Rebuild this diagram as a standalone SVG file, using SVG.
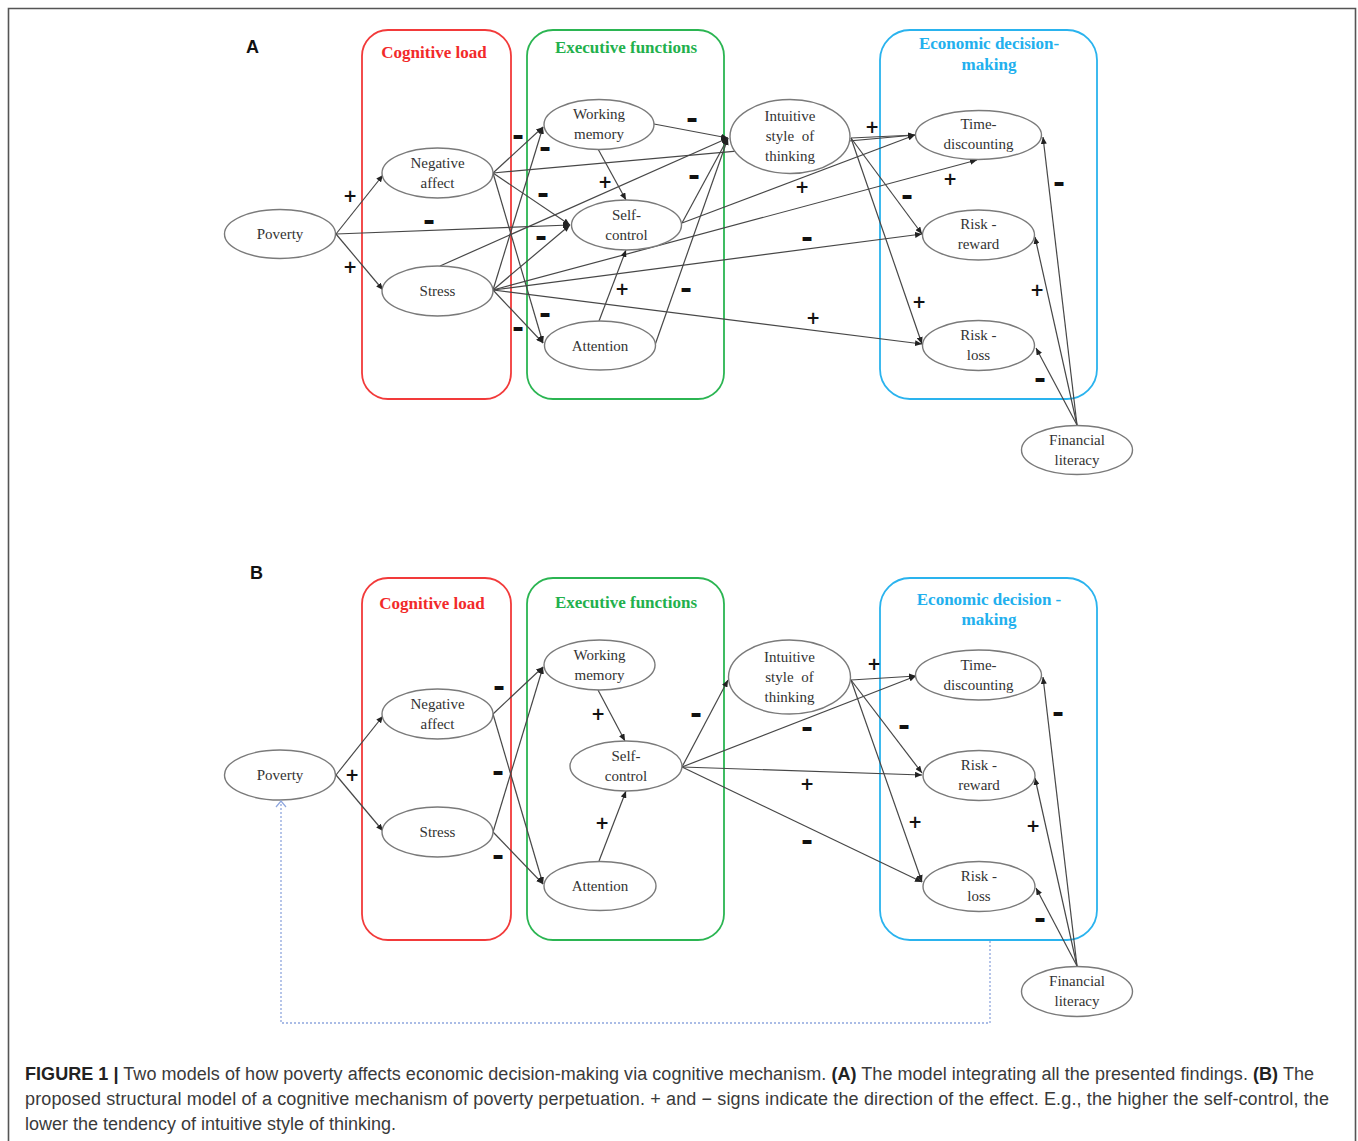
<svg xmlns="http://www.w3.org/2000/svg" width="1358" height="1141" viewBox="0 0 1358 1141">
<style>
.bg{fill:#fff}
.frame{fill:none;stroke:#555;stroke-width:1.6}
.node ellipse{fill:#fff;stroke:#7a7a7a;stroke-width:1.4}
.node text{font-family:"Liberation Serif","Times New Roman",serif;font-size:15px;fill:#333;text-anchor:middle}
.box{fill:none;stroke-width:1.8}
.red{stroke:#f23a3a}.grn{stroke:#2bb552}.blu{stroke:#2ab3ee}
.ttl{font-family:"Liberation Serif","Times New Roman",serif;font-size:17px;font-weight:bold;text-anchor:middle}
.tr{fill:#f22a2a}.tg{fill:#22b04c}.tb{fill:#22b0ee}
.edges line,.edges path{stroke:#474747;stroke-width:1.2;fill:none}
.edges line{marker-end:url(#ah)}
.dot{stroke:#8ea6de !important;stroke-dasharray:2 2;stroke-width:1.3 !important;marker-end:url(#oa)}
.sg{font-family:"DejaVu Sans",sans-serif;font-weight:bold;font-size:17px;fill:#111;text-anchor:middle;dominant-baseline:central}
.mn{font-size:29px}
.pl{font-family:"Liberation Sans",Arial,sans-serif;font-weight:bold;font-size:18px;fill:#111}
.cap{font-family:"Liberation Sans",Arial,sans-serif;font-size:18px;fill:#3a3a3a}
.cap .b{font-weight:bold;fill:#222}
</style>
<defs>
<marker id="ah" markerUnits="userSpaceOnUse" markerWidth="8" markerHeight="6" refX="7" refY="3" orient="auto">
<path d="M0,0 L7,3 L0,6 z" fill="#222"/>
</marker>
<marker id="oa" markerUnits="userSpaceOnUse" markerWidth="10" markerHeight="12" refX="7" refY="6" orient="auto">
<path d="M1,1 L7,6 L1,11" fill="none" stroke="#8ea6de" stroke-width="1.2"/>
</marker>
</defs>
<rect class="bg" x="0" y="0" width="1358" height="1141"/>
<path class="frame" d="M8.5,1145 V8.5 H1355.5 V1145"/>

<text class="pl" x="246" y="53">A</text>
<text class="pl" x="250" y="579">B</text>

<!-- Panel A group boxes -->
<g id="A-cognitive-load">
<rect class="box red" x="362" y="30" width="149" height="369" rx="26"/>
<text class="ttl tr" x="434" y="58">Cognitive load</text>
</g>
<g id="A-executive-functions">
<rect class="box grn" x="527" y="30" width="197" height="369" rx="26"/>
<text class="ttl tg" x="626" y="53">Executive functions</text>
</g>
<g id="A-economic-decision">
<rect class="box blu" x="880" y="30" width="217" height="369" rx="30"/>
<text class="ttl tb" x="989" y="49">Economic decision-</text>
<text class="ttl tb" x="989" y="70">making</text>
</g>

<!-- Panel B group boxes -->
<g id="B-cognitive-load">
<rect class="box red" x="362" y="578" width="149" height="362" rx="26"/>
<text class="ttl tr" x="432" y="609">Cognitive load</text>
</g>
<g id="B-executive-functions">
<rect class="box grn" x="527" y="578" width="197" height="362" rx="26"/>
<text class="ttl tg" x="626" y="608">Executive functions</text>
</g>
<g id="B-economic-decision">
<rect class="box blu" x="880" y="578" width="217" height="362" rx="30"/>
<text class="ttl tb" x="989" y="605">Economic decision -</text>
<text class="ttl tb" x="989" y="625">making</text>
</g>

<!-- Connectors -->
<g id="connectors" class="edges">
<!-- Panel A -->
<line x1="336" y1="234" x2="383" y2="175"/>
<line x1="336" y1="234" x2="383" y2="290"/>
<line x1="336" y1="234" x2="570" y2="225"/>
<line x1="493" y1="173" x2="543" y2="127"/>
<line x1="493" y1="173" x2="570" y2="225"/>
<line x1="493" y1="173" x2="543" y2="343"/>
<line x1="493" y1="173" x2="915" y2="135"/>
<line x1="493" y1="290" x2="543" y2="127"/>
<line x1="493" y1="290" x2="570" y2="225"/>
<line x1="493" y1="290" x2="543" y2="343"/>
<line x1="440" y1="266" x2="728" y2="138"/>
<line x1="493" y1="290" x2="977" y2="160"/>
<line x1="493" y1="290" x2="922" y2="234"/>
<line x1="493" y1="290" x2="922" y2="344"/>
<line x1="654" y1="124" x2="728" y2="138"/>
<line x1="598" y1="149" x2="626" y2="200"/>
<line x1="682" y1="223" x2="728" y2="138"/>
<line x1="682" y1="223" x2="915" y2="135"/>
<line x1="599" y1="321" x2="626" y2="250"/>
<line x1="655" y1="345" x2="728" y2="138"/>
<line x1="851" y1="138" x2="915" y2="135"/>
<line x1="851" y1="138" x2="922" y2="234"/>
<line x1="851" y1="138" x2="922" y2="344"/>
<line x1="1077" y1="425" x2="1043" y2="137"/>
<line x1="1077" y1="425" x2="1035" y2="237"/>
<line x1="1077" y1="425" x2="1036" y2="348"/>
<!-- Panel B -->
<line x1="336" y1="775" x2="383" y2="716"/>
<line x1="336" y1="775" x2="383" y2="831"/>
<line x1="493" y1="714" x2="543" y2="667"/>
<line x1="493" y1="714" x2="543" y2="884"/>
<line x1="493" y1="832" x2="543" y2="667"/>
<line x1="493" y1="832" x2="543" y2="884"/>
<line x1="598" y1="690" x2="625" y2="741"/>
<line x1="599" y1="861" x2="626" y2="791"/>
<line x1="682" y1="767" x2="728" y2="680"/>
<line x1="682" y1="767" x2="916" y2="676"/>
<line x1="682" y1="767" x2="922" y2="775"/>
<line x1="682" y1="767" x2="922" y2="882"/>
<line x1="851" y1="680" x2="916" y2="676"/>
<line x1="851" y1="680" x2="922" y2="773"/>
<line x1="851" y1="680" x2="922" y2="882"/>
<line x1="1077" y1="966" x2="1043" y2="677"/>
<line x1="1077" y1="966" x2="1035" y2="778"/>
<line x1="1077" y1="966" x2="1036" y2="888"/>
</g>

<!-- Panel A nodes -->
<g id="A-poverty" class="node"><ellipse cx="280" cy="234" rx="55.5" ry="24.5"/><text x="280" y="239">Poverty</text></g>
<g id="A-negative-affect" class="node"><ellipse cx="437.5" cy="173" rx="55.5" ry="25"/><text x="437.5" y="168">Negative</text><text x="437.5" y="188">affect</text></g>
<g id="A-stress" class="node"><ellipse cx="437.5" cy="291" rx="55.5" ry="25"/><text x="437.5" y="296">Stress</text></g>
<g id="A-working-memory" class="node"><ellipse cx="599" cy="124.5" rx="55" ry="25"/><text x="599" y="119">Working</text><text x="599" y="139">memory</text></g>
<g id="A-self-control" class="node"><ellipse cx="626.5" cy="225" rx="55" ry="25"/><text x="626.5" y="220">Self-</text><text x="626.5" y="240">control</text></g>
<g id="A-attention" class="node"><ellipse cx="600" cy="345.5" rx="55.5" ry="24.5"/><text x="600" y="350.5">Attention</text></g>
<g id="A-intuitive" class="node"><ellipse cx="790" cy="136.5" rx="60" ry="37"/><text x="790" y="121">Intuitive</text><text x="790" y="141" word-spacing="4">style of</text><text x="790" y="161">thinking</text></g>
<g id="A-time-discounting" class="node"><ellipse cx="978.5" cy="135" rx="63" ry="24.5"/><text x="978.5" y="129">Time-</text><text x="978.5" y="149">discounting</text></g>
<g id="A-risk-reward" class="node"><ellipse cx="978.5" cy="235" rx="56" ry="25"/><text x="978.5" y="229">Risk -</text><text x="978.5" y="249">reward</text></g>
<g id="A-risk-loss" class="node"><ellipse cx="978.5" cy="345.5" rx="56" ry="25"/><text x="978.5" y="340">Risk -</text><text x="978.5" y="360">loss</text></g>
<g id="A-financial-literacy" class="node"><ellipse cx="1077" cy="450" rx="55.5" ry="24.5"/><text x="1077" y="445">Financial</text><text x="1077" y="465">literacy</text></g>

<!-- Panel B nodes -->
<g id="B-poverty" class="node"><ellipse cx="280" cy="775" rx="55.5" ry="25"/><text x="280" y="780">Poverty</text></g>
<g id="B-negative-affect" class="node"><ellipse cx="437.5" cy="714" rx="55.5" ry="25"/><text x="437.5" y="709">Negative</text><text x="437.5" y="729">affect</text></g>
<g id="B-stress" class="node"><ellipse cx="437.5" cy="832" rx="55.5" ry="25"/><text x="437.5" y="837">Stress</text></g>
<g id="B-working-memory" class="node"><ellipse cx="599.5" cy="665" rx="55.5" ry="25"/><text x="599.5" y="660">Working</text><text x="599.5" y="680">memory</text></g>
<g id="B-self-control" class="node"><ellipse cx="626" cy="766" rx="56" ry="25"/><text x="626" y="761">Self-</text><text x="626" y="781">control</text></g>
<g id="B-attention" class="node"><ellipse cx="600" cy="886" rx="56" ry="24.5"/><text x="600" y="891">Attention</text></g>
<g id="B-intuitive" class="node"><ellipse cx="789.5" cy="677" rx="61" ry="37"/><text x="789.5" y="662">Intuitive</text><text x="789.5" y="682" word-spacing="4">style of</text><text x="789.5" y="702">thinking</text></g>
<g id="B-time-discounting" class="node"><ellipse cx="978.5" cy="675" rx="63" ry="25"/><text x="978.5" y="670">Time-</text><text x="978.5" y="690">discounting</text></g>
<g id="B-risk-reward" class="node"><ellipse cx="979" cy="775.5" rx="56" ry="25"/><text x="979" y="770">Risk -</text><text x="979" y="790">reward</text></g>
<g id="B-risk-loss" class="node"><ellipse cx="979" cy="886.5" rx="56" ry="25"/><text x="979" y="881">Risk -</text><text x="979" y="901">loss</text></g>
<g id="B-financial-literacy" class="node"><ellipse cx="1077" cy="991.5" rx="55.5" ry="25"/><text x="1077" y="986">Financial</text><text x="1077" y="1006">literacy</text></g>

<!-- Feedback connector (panel B) -->
<g id="feedback-connector" class="edges">
<path class="dot" d="M990,941 V1023 H281 V801"/>
</g>

<!-- Sign labels A -->
<g id="A-signs">
<text class="sg" x="350" y="196">+</text>
<text class="sg" x="350" y="267">+</text>
<text class="sg mn" x="429" y="220">-</text>
<text class="sg mn" x="518" y="135">-</text>
<text class="sg mn" x="545" y="147">-</text>
<text class="sg mn" x="543" y="193">-</text>
<text class="sg mn" x="541" y="236">-</text>
<text class="sg mn" x="545" y="313">-</text>
<text class="sg mn" x="518" y="327">-</text>
<text class="sg" x="605" y="182">+</text>
<text class="sg" x="622" y="289">+</text>
<text class="sg mn" x="692" y="118">-</text>
<text class="sg mn" x="694" y="175">-</text>
<text class="sg mn" x="686" y="288">-</text>
<text class="sg" x="802" y="187">+</text>
<text class="sg mn" x="807" y="237">-</text>
<text class="sg" x="813" y="318">+</text>
<text class="sg" x="872" y="127">+</text>
<text class="sg" x="950" y="179">+</text>
<text class="sg mn" x="907" y="195">-</text>
<text class="sg" x="919" y="302">+</text>
<text class="sg mn" x="1059" y="182">-</text>
<text class="sg" x="1037" y="290">+</text>
<text class="sg mn" x="1040" y="378">-</text>
</g>
<!-- Sign labels B -->
<g id="B-signs">
<text class="sg" x="352" y="775">+</text>
<text class="sg mn" x="499" y="686">-</text>
<text class="sg mn" x="498" y="771">-</text>
<text class="sg mn" x="498" y="855">-</text>
<text class="sg" x="598" y="714">+</text>
<text class="sg" x="602" y="823">+</text>
<text class="sg mn" x="696" y="713">-</text>
<text class="sg mn" x="807" y="727">-</text>
<text class="sg" x="807" y="784">+</text>
<text class="sg mn" x="807" y="840">-</text>
<text class="sg" x="874" y="664">+</text>
<text class="sg mn" x="904" y="725">-</text>
<text class="sg" x="915" y="822">+</text>
<text class="sg mn" x="1058" y="712">-</text>
<text class="sg" x="1033" y="826">+</text>
<text class="sg mn" x="1040" y="918">-</text>
</g>

<!-- Caption -->
<g id="caption" class="cap">
<text x="25" y="1080" textLength="1289" lengthAdjust="spacing"><tspan class="b">FIGURE 1 |</tspan> Two models of how poverty affects economic decision-making via cognitive mechanism. <tspan class="b">(A)</tspan> The model integrating all the presented findings. <tspan class="b">(B)</tspan> The</text>
<text x="25" y="1105" textLength="1304" lengthAdjust="spacing">proposed structural model of a cognitive mechanism of poverty perpetuation. + and − signs indicate the direction of the effect. E.g., the higher the self-control, the</text>
<text x="25" y="1130" textLength="371" lengthAdjust="spacing">lower the tendency of intuitive style of thinking.</text>
</g>
</svg>
